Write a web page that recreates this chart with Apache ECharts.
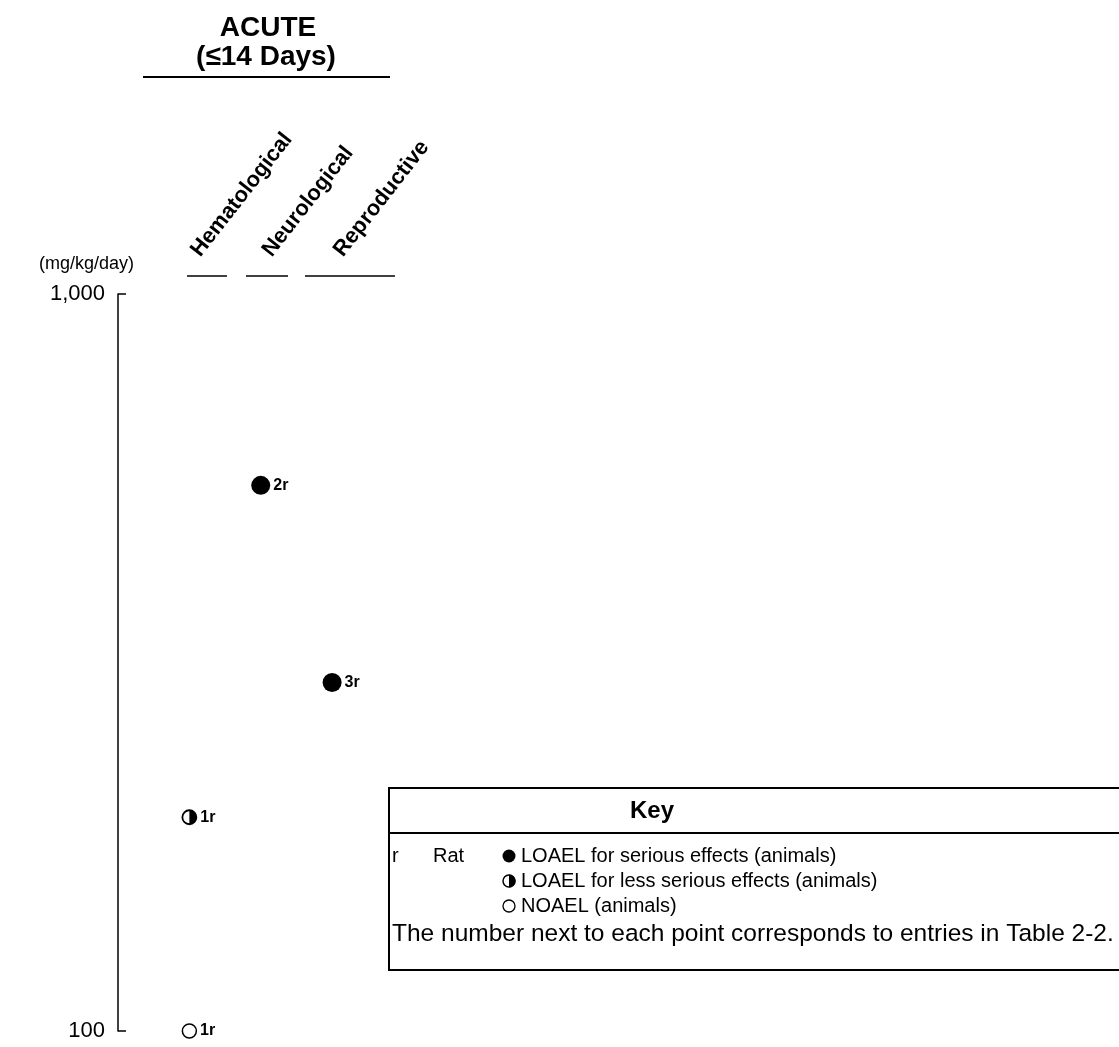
<!DOCTYPE html>
<html><head><meta charset="utf-8">
<script src="https://cdn.jsdelivr.net/npm/echarts@6/dist/echarts.min.js"></script>
<style>html,body{margin:0;padding:0;background:#fff}#c{width:1119px;height:1047px}</style>
</head><body><div id="c"></div>
<script>
// ---- data ----
const categories = ['Hematological', 'Neurological', 'Reproductive'];
const yTickValues = [100, 1000];
const yTickLabels = ['100', '1,000'];
// LOAEL for serious effects (filled)
const seriousCat = [1, 2];
const seriousDose = [550, 297];
const seriousLabel = ['2r', '3r'];
// LOAEL for less serious effects (half filled)
const lessCat = [0];
const lessDose = [195];
const lessLabel = ['1r'];
// NOAEL (open)
const noaelCat = [0];
const noaelDose = [100];
const noaelLabel = ['1r'];

const FONT = '"Liberation Sans", Arial, Helvetica, sans-serif';
const pts = (c, d, l) => c.map((v, i) => ({ value: [v, d[i]], name: l[i] }));
const ptLabel = { show: true, position: 'right', distance: 3, formatter: p => p.name,
  color: '#000', fontFamily: FONT, fontWeight: 'bold', fontSize: 16 };
const HALF = 'path://M0,-10 A10,10 0 0,1 0,10 Z';

const chart = echarts.init(document.getElementById('c'), null, { renderer: 'canvas' });
const option = {
  backgroundColor: '#fff',
  animation: false,
  grid: { left: 118, right: 0, top: 294, bottom: 16, containLabel: false },
  xAxis: {
    type: 'value', position: 'top', min: -1, max: 13, interval: 1,
    axisLine: { show: false, onZero: false }, axisTick: { show: false }, splitLine: { show: false },
    axisLabel: {
      rotate: -52, margin: 32, padding: [0, 0, 0, 10],
      formatter: v => categories[v] || '',
      color: '#000', fontFamily: FONT, fontWeight: 'bold', fontSize: 22
    }
  },
  yAxis: {
    type: 'log', logBase: 10, min: 100, max: 1000,
    axisLine: { show: true, onZero: false, lineStyle: { color: '#000', width: 1.5 } },
    axisTick: { show: true, inside: true, length: 8, lineStyle: { color: '#000', width: 1.5 } },
    minorTick: { show: false }, splitLine: { show: false },
    axisLabel: {
      margin: 13, color: '#000', fontFamily: FONT, fontSize: 22,
      formatter: v => { const i = yTickValues.indexOf(Math.round(v)); return i >= 0 ? yTickLabels[i] : ''; }
    }
  },
  series: [
    { name: 'LOAEL serious', type: 'scatter', symbol: 'circle', symbolSize: 19,
      itemStyle: { color: '#000', opacity: 1 }, label: ptLabel, data: pts(seriousCat, seriousDose, seriousLabel) },
    { name: 'LOAEL less serious', type: 'scatter', symbol: 'circle', symbolSize: 14,
      itemStyle: { color: '#fff', borderColor: '#000', borderWidth: 1.8, opacity: 1 },
      label: ptLabel, data: pts(lessCat, lessDose, lessLabel) },
    { name: 'LOAEL less serious half', type: 'scatter', symbol: HALF, symbolSize: [7, 14], symbolOffset: [3.5, 0],
      itemStyle: { color: '#000', opacity: 1 }, label: { show: false }, data: pts(lessCat, lessDose, lessLabel) },
    { name: 'NOAEL', type: 'scatter', symbol: 'circle', symbolSize: 14,
      itemStyle: { color: '#fff', borderColor: '#000', borderWidth: 1.5, opacity: 1 },
      label: ptLabel, data: pts(noaelCat, noaelDose, noaelLabel) }
  ],
  graphic: [
    { type: 'text', x: 268, y: 28, style: { text: 'ACUTE', textAlign: 'center', textVerticalAlign: 'middle', font: 'bold 28px ' + FONT, fill: '#000' } },
    { type: 'text', x: 266, y: 57, style: { text: '(≤14 Days)', textAlign: 'center', textVerticalAlign: 'middle', font: 'bold 28px ' + FONT, fill: '#000' } },
    { type: 'line', shape: { x1: 143, y1: 77, x2: 390, y2: 77 }, style: { stroke: '#000', lineWidth: 2 } },
    { type: 'text', x: 134, y: 264, style: { text: '(mg/kg/day)', textAlign: 'right', textVerticalAlign: 'middle', font: '18px ' + FONT, fill: '#000' } },
    { type: 'line', shape: { x1: 187, y1: 276, x2: 227, y2: 276 }, style: { stroke: '#000', lineWidth: 1.5 } },
    { type: 'line', shape: { x1: 246, y1: 276, x2: 288, y2: 276 }, style: { stroke: '#000', lineWidth: 1.5 } },
    { type: 'line', shape: { x1: 305, y1: 276, x2: 395, y2: 276 }, style: { stroke: '#000', lineWidth: 1.5 } },
    // key box
    { type: 'rect', shape: { x: 389, y: 788, width: 780, height: 182 }, style: { fill: '#fff', stroke: '#000', lineWidth: 2 }, z: 10 },
    { type: 'line', shape: { x1: 389, y1: 833, x2: 1169, y2: 833 }, style: { stroke: '#000', lineWidth: 2 }, z: 11 },
    { type: 'text', x: 652, y: 811, z: 11, style: { text: 'Key', textAlign: 'center', textVerticalAlign: 'middle', font: 'bold 24px ' + FONT, fill: '#000' } },
    { type: 'text', x: 392, y: 856, z: 11, style: { text: 'r', textAlign: 'left', textVerticalAlign: 'middle', font: '20px ' + FONT, fill: '#000' } },
    { type: 'text', x: 433, y: 856, z: 11, style: { text: 'Rat', textAlign: 'left', textVerticalAlign: 'middle', font: '20px ' + FONT, fill: '#000' } },
    { type: 'circle', z: 11, shape: { cx: 509, cy: 856, r: 6.5 }, style: { fill: '#000' } },
    { type: 'circle', z: 11, shape: { cx: 509, cy: 881, r: 6 }, style: { fill: '#fff', stroke: '#000', lineWidth: 1.5 } },
    { type: 'sector', z: 12, shape: { cx: 509, cy: 881, r: 6.5, r0: 0, startAngle: -Math.PI / 2, endAngle: Math.PI / 2 }, style: { fill: '#000' } },
    { type: 'circle', z: 11, shape: { cx: 509, cy: 906, r: 6 }, style: { fill: '#fff', stroke: '#000', lineWidth: 1.3 } },
    { type: 'text', x: 521, y: 856, z: 11, style: { text: 'LOAEL for serious effects (animals)', textAlign: 'left', textVerticalAlign: 'middle', font: '20px ' + FONT, fill: '#000' } },
    { type: 'text', x: 521, y: 881, z: 11, style: { text: 'LOAEL for less serious effects (animals)', textAlign: 'left', textVerticalAlign: 'middle', font: '20px ' + FONT, fill: '#000' } },
    { type: 'text', x: 521, y: 906, z: 11, style: { text: 'NOAEL (animals)', textAlign: 'left', textVerticalAlign: 'middle', font: '20px ' + FONT, fill: '#000' } },
    { type: 'text', x: 392, y: 934, z: 11, style: { text: 'The number next to each point corresponds to entries in Table 2-2.', textAlign: 'left', textVerticalAlign: 'middle', font: '24.5px ' + FONT, fill: '#000' } }
  ]
};
chart.setOption(option);
</script></body></html>
